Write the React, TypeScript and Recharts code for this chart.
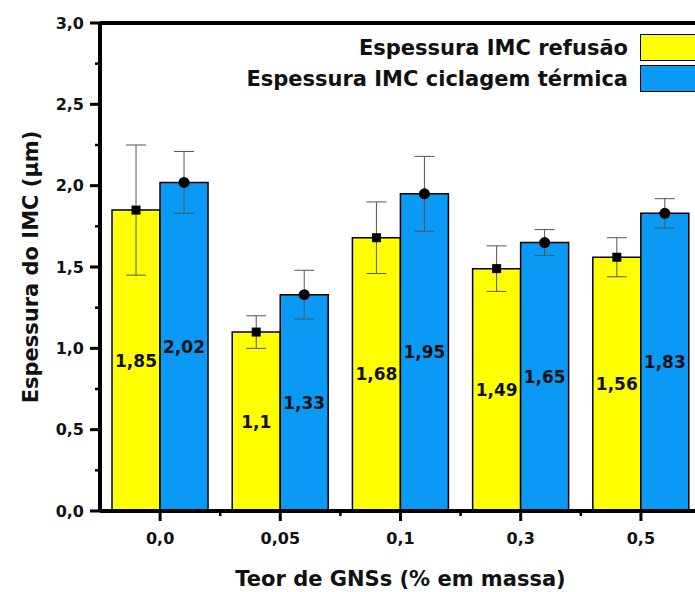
import React from 'react'
import {
  BarChart, Bar, XAxis, YAxis, ErrorBar, LabelList, Legend, ReferenceLine,
} from 'recharts'

const TEOR = ['0,0', '0,05', '0,1', '0,3', '0,5']
const REFUSAO = [1.85, 1.1, 1.68, 1.49, 1.56]
const ERR_REFUSAO = [0.4, 0.1, 0.22, 0.14, 0.12]
const CICLAGEM = [2.02, 1.33, 1.95, 1.65, 1.83]
const ERR_CICLAGEM = [0.19, 0.15, 0.23, 0.08, 0.09]
const Y_TICKS = [0, 0.25, 0.5, 0.75, 1, 1.25, 1.5, 1.75, 2, 2.25, 2.5, 2.75, 3]
const Y_MAJOR = [0, 0.5, 1, 1.5, 2, 2.5, 3]
const SERIES_NAMES = ['Espessura IMC refusão', 'Espessura IMC ciclagem térmica']

const YELLOW = '#ffff00'
const BLUE = '#0a9af5'
const FONT = '"DejaVu Sans", sans-serif'

const W = 720
const H = 592
const LEFT = 100
const RIGHT_MARGIN = 19
const BAND = (W - LEFT - RIGHT_MARGIN) / TEOR.length

const data = TEOR.map((t, i) => ({
  teor: t,
  refusao: REFUSAO[i],
  errR: ERR_REFUSAO[i],
  ciclagem: CICLAGEM[i],
  errC: ERR_CICLAGEM[i],
}))

const fmt = (v: any) => String(v).replace('.', ',')

function YTick({ y, payload }: any) {
  const major = Y_MAJOR.includes(payload.value)
  if (!major) {
    return <line x1={LEFT - 5} x2={LEFT} y1={y} y2={y} stroke="#000" strokeWidth={2.5} />
  }
  return (
    <g>
      <line x1={LEFT - 10} x2={LEFT} y1={y} y2={y} stroke="#000" strokeWidth={3} />
      <text x={84} y={y} dy="0.36em" textAnchor="end" fontFamily={FONT} fontWeight="bold" fontSize={16} fill="#111">
        {fmt(payload.value.toFixed(1))}
      </text>
    </g>
  )
}

function XTick({ x, payload }: any) {
  const y0 = 511
  return (
    <g>
      <line x1={x} x2={x} y1={y0} y2={y0 + 10} stroke="#000" strokeWidth={3} />
      <line x1={x + BAND / 2} x2={x + BAND / 2} y1={y0} y2={y0 + 5} stroke="#000" strokeWidth={2.5} />
      <text x={x} y={y0 + 27} dy="0.36em" textAnchor="middle" fontFamily={FONT} fontWeight="bold" fontSize={16} fill="#111">
        {payload.value}
      </text>
    </g>
  )
}

function SquareMark({ x, y, width }: any) {
  const cx = x + width / 2
  return <rect x={cx - 4.5} y={y - 4.5} width={9} height={9} fill="#000" />
}

function CircleMark({ x, y, width }: any) {
  return <circle cx={x + width / 2} cy={y} r={5.5} fill="#000" />
}

function LegendBox({ payload }: any) {
  const items = [...(payload || [])].sort(
    (a: any, b: any) => SERIES_NAMES.indexOf(a.value) - SERIES_NAMES.indexOf(b.value),
  )
  return (
    <div style={{ display: 'flex', flexDirection: 'column', alignItems: 'flex-end' }}>
      {items.map((p: any) => (
        <div key={p.value} style={{ display: 'flex', alignItems: 'center', height: 31 }}>
          <span style={{ fontFamily: FONT, fontWeight: 'bold', fontSize: 21, color: '#111', marginRight: 12 }}>{p.value}</span>
          <span style={{ width: 58, height: 25, background: p.color, border: '1.5px solid #000' }} />
        </div>
      ))}
    </div>
  )
}

export default function App() {
  return (
    <div style={{ position: 'absolute', left: 0, top: 0, width: 695, height: 592, overflow: 'hidden', background: '#fff' }}>
      <BarChart
        width={W}
        height={H}
        data={data}
        margin={{ top: 23, right: RIGHT_MARGIN, left: 0, bottom: 0 }}
        barCategoryGap="10%"
        barGap={0}
      >
        <XAxis
          dataKey="teor"
          height={81}
          axisLine={{ stroke: '#000', strokeWidth: 4 }}
          tickLine={false}
          tick={<XTick />}
          interval={0}
          label={({ viewBox }: any) => (
            <text x={viewBox.x + viewBox.width / 2} y={viewBox.y + 67} dy="0.36em" textAnchor="middle" fontFamily={FONT} fontWeight="bold" fontSize={21} fill="#111">
              Teor de GNSs (% em massa)
            </text>
          )}
        />
        <YAxis
          width={LEFT}
          domain={[0, 3]}
          ticks={Y_TICKS}
          interval={0}
          axisLine={{ stroke: '#000', strokeWidth: 4 }}
          tickLine={false}
          tick={<YTick />}
          label={({ viewBox }: any) => {
            const cx = 30
            const cy = viewBox.y + viewBox.height / 2
            return (
              <text x={cx} y={cy} dy="0.36em" textAnchor="middle" transform={`rotate(-90, ${cx}, ${cy})`} fontFamily={FONT} fontWeight="bold" fontSize={21} fill="#111">
                Espessura do IMC (µm)
              </text>
            )
          }}
        />
        <ReferenceLine y={3} stroke="#000" strokeWidth={4} />
        <Legend
          layout="vertical"
          verticalAlign="middle"
          align="center"
          wrapperStyle={{ top: 32, left: 0, width: 700 }}
          content={<LegendBox />}
        />
        <Bar dataKey="refusao" name={SERIES_NAMES[0]} fill={YELLOW} stroke="#000" strokeWidth={1.5} isAnimationActive={false}>
          <ErrorBar dataKey="errR" width={10} stroke="#555" strokeWidth={1} direction="y" />
          <LabelList dataKey="refusao" position="center" formatter={fmt} fontFamily={FONT} fontWeight="bold" fontSize={17} fill="#111" />
          <LabelList dataKey="refusao" content={<SquareMark />} />
        </Bar>
        <Bar dataKey="ciclagem" name={SERIES_NAMES[1]} fill={BLUE} stroke="#000" strokeWidth={1.5} isAnimationActive={false}>
          <ErrorBar dataKey="errC" width={10} stroke="#555" strokeWidth={1} direction="y" />
          <LabelList dataKey="ciclagem" position="center" formatter={fmt} fontFamily={FONT} fontWeight="bold" fontSize={17} fill="#111" />
          <LabelList dataKey="ciclagem" content={<CircleMark />} />
        </Bar>
      </BarChart>
    </div>
  )
}
